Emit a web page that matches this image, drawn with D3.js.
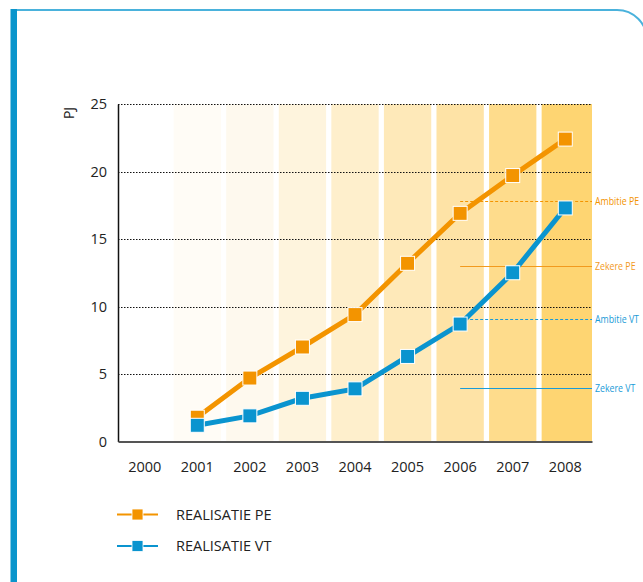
<!DOCTYPE html>
<html>
<head>
<meta charset="utf-8">
<script src="https://cdn.jsdelivr.net/npm/d3@7"></script>
<style>
  body { margin: 0; background: #fff; }
  svg { display: block; }
  text { font-family: "Open Sans", sans-serif; fill: #222; }
</style>
</head>
<body>
<svg id="chart"></svg>
<script>
var width = 643;
var height = 582;

var years = ["2000", "2001", "2002", "2003", "2004", "2005", "2006", "2007", "2008"];
var bandColors = ["#ffffff", "#fffcf6", "#fef9ee", "#fef4dd", "#feefcc", "#fee9b9", "#fee3a6", "#fedc8c", "#fed572"];
var peValues = [null, 1.8, 4.7, 7.0, 9.4, 13.2, 16.9, 19.7, 22.4];
var vtValues = [null, 1.2, 1.9, 3.2, 3.9, 6.3, 8.7, 12.5, 17.3];
var yTicks = [0, 5, 10, 15, 20, 25];

var refNames = ["Ambitie PE", "Zekere PE", "Ambitie VT", "Zekere VT"];
var refValues = [17.8, 13.0, 9.1, 4.0];
var refFrom = "2006";

var orange = "#f39400";
var blue = "#0a94cf";
var refColors = [orange, "#f29a1e", "#1a9bd7", "#1a9bd7"];
var refDashed = [true, false, true, false];

var svg = d3.select("#chart")
    .attr("width", width)
    .attr("height", height);

// frame: thick bar on the left, thin top line with rounded corner
svg.append("path")
    .attr("d", "M14,10 L617,10 A30,30 0 0 1 647,40 L647,600")
    .attr("fill", "none")
    .attr("stroke", "#4ab2dc")
    .attr("stroke-width", 2);
svg.append("rect")
    .attr("x", 10.5).attr("y", 9)
    .attr("width", 6.5).attr("height", height)
    .attr("fill", "#0a95cc");

var x = d3.scaleBand()
    .domain(years)
    .range([118, 592])
    .paddingInner(0.1)
    .paddingOuter(0.058);

var y = d3.scaleLinear()
    .domain([0, 25])
    .range([441.5, 104]);

// background bands
svg.selectAll("rect.band")
    .data(years)
    .enter()
    .append("rect")
    .attr("class", "band")
    .attr("x", function(d) { return x(d); })
    .attr("y", y(25))
    .attr("width", function(d, i) {
      if (i == years.length - 1) return 592 - x(d);
      return x.bandwidth();
    })
    .attr("height", y(0) - y(25))
    .attr("fill", function(d, i) { return bandColors[i]; });

// dotted grid lines
svg.selectAll("line.grid")
    .data(yTicks.slice(1))
    .enter()
    .append("line")
    .attr("class", "grid")
    .attr("x1", 118).attr("x2", 592)
    .attr("y1", function(d) { return Math.round(y(d)) + 0.5; })
    .attr("y2", function(d) { return Math.round(y(d)) + 0.5; })
    .attr("stroke", "#111")
    .attr("stroke-width", 1)
    .attr("stroke-dasharray", "1.5,1.5");

// y axis
var yAxis = svg.append("g")
    .attr("transform", "translate(118,0)")
    .call(d3.axisLeft(y).tickValues(yTicks).tickSize(0).tickPadding(11));
yAxis.select(".domain").attr("stroke", "#111").attr("stroke-width", 1.5);
yAxis.selectAll("text")
    .style("font-size", "14.5px")
    .style("font-family", "'Open Sans', sans-serif")
    .attr("fill", "#222");

svg.append("text")
    .attr("transform", "translate(74,113) rotate(-90)")
    .attr("text-anchor", "middle")
    .style("font-size", "14px")
    .text("PJ");

// x axis
var xAxis = svg.append("g")
    .attr("transform", "translate(0," + y(0) + ")")
    .call(d3.axisBottom(x).tickSize(0).tickPadding(20));
xAxis.select(".domain").attr("stroke", "#555").attr("stroke-width", 2);
xAxis.selectAll("text")
    .style("font-size", "14.5px")
    .style("font-family", "'Open Sans', sans-serif")
    .attr("fill", "#222");

// reference lines
var cx = function(d) { return x(d) + x.bandwidth() / 2; };
refNames.forEach(function(name, i) {
  var ry = Math.round(y(refValues[i])) + 0.5;
  svg.append("line")
    .attr("x1", cx(refFrom)).attr("x2", 592)
    .attr("y1", ry).attr("y2", ry)
    .attr("stroke", refColors[i])
    .attr("stroke-width", 1)
    .attr("stroke-dasharray", refDashed[i] ? "3,2" : null);
  // condensed label
  svg.append("text")
    .attr("transform", "translate(595," + ry + ") scale(0.8,1)")
    .attr("dy", "0.35em")
    .style("font-family", "'Open Sans', sans-serif")
    .style("font-size", "11px")
    .style("fill", refColors[i])
    .text(name);
});

// series
function drawSeries(values, color) {
  var pts = years.map(function(d, i) { return { year: d, value: values[i] }; })
    .filter(function(d) { return d.value != null; });

  var line = d3.line()
    .x(function(d) { return cx(d.year); })
    .y(function(d) { return y(d.value); });

  svg.append("path")
    .datum(pts)
    .attr("d", line)
    .attr("fill", "none")
    .attr("stroke", color)
    .attr("stroke-width", 5);

  svg.selectAll(null)
    .data(pts)
    .enter()
    .append("rect")
    .attr("x", function(d) { return cx(d.year) - 7; })
    .attr("y", function(d) { return y(d.value) - 7; })
    .attr("width", 14)
    .attr("height", 14)
    .attr("fill", color)
    .attr("stroke", "#fff")
    .attr("stroke-width", 1);
}

drawSeries(peValues, orange);
drawSeries(vtValues, blue);

// legend
var legendNames = ["REALISATIE PE", "REALISATIE VT"];
var legendColors = [orange, blue];
legendNames.forEach(function(name, i) {
  var ly = 514.5 + i * 31.5;
  svg.append("line")
    .attr("x1", 117).attr("x2", 158)
    .attr("y1", ly).attr("y2", ly)
    .attr("stroke", legendColors[i])
    .attr("stroke-width", 2);
  svg.append("rect")
    .attr("x", 132).attr("y", ly - 5.5)
    .attr("width", 11).attr("height", 11)
    .attr("fill", legendColors[i])
    .attr("stroke", "#fff")
    .attr("stroke-width", 0.8);
  svg.append("text")
    .attr("x", 176)
    .attr("y", ly)
    .attr("dy", "0.36em")
    .style("font-size", "14.5px")
    .text(name);
});
</script>
</body>
</html>
